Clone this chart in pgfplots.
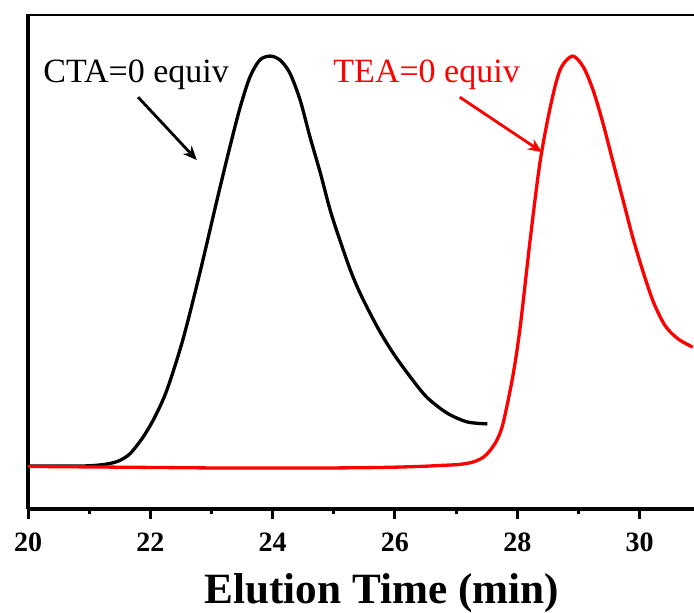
\documentclass[border=0pt]{standalone}
\usepackage{pgfplots}
\pgfplotsset{compat=1.18}
\usepackage{fontspec}
\setmainfont{Liberation Serif}
\usetikzlibrary{arrows.meta}

\definecolor{tracered}{RGB}{255,0,0}

\begin{document}
\begin{tikzpicture}
\begin{axis}[
  at={(0,0)}, anchor=south west,
  width=333pt, height=247.5pt, scale only axis,
  xmin=20, xmax=30.89, ymin=0, ymax=1,
  axis x line*=bottom, axis y line*=left,
  axis line style={line width=1.6pt, black},
  xtick={20,22,...,30}, minor x tick num=1,
  ytick=\empty,
  tick align=outside,
  major tick length=5pt, minor tick length=2.6pt,
  every tick/.style={line width=1.5pt, black},
  /pgf/number format/assume math mode=true,
  xticklabel style={font=\fontsize{14}{16}\selectfont\bfseries, yshift=-3.5pt},
  xlabel={Elution Time (min)},
  x label style={at={(axis description cs:0.531,0)}, anchor=base, yshift=-47pt,
    font=\fontsize{21.6}{24}\selectfont\bfseries},
]
% frame line along the top of the plot area
\draw[line width=2.3pt] (rel axis cs:0,1) -- (rel axis cs:1,1);

% CTA = 0 equiv trace
\addplot[black, line width=1.65pt, smooth, tension=0.5] coordinates {
 (20.00,0.087) (20.52,0.087) (20.93,0.087) (21.18,0.089) (21.34,0.092)
 (21.50,0.098) (21.67,0.112) (21.88,0.145) (22.07,0.185) (22.27,0.240)
 (22.53,0.341) (22.81,0.477) (23.09,0.624) (23.30,0.731) (23.47,0.812)
 (23.63,0.873) (23.79,0.907) (23.96,0.915) (24.12,0.907) (24.28,0.881)
 (24.45,0.826) (24.61,0.752) (24.78,0.679) (24.94,0.604) (25.10,0.543)
 (25.27,0.483) (25.43,0.436) (25.71,0.368) (25.97,0.315) (26.25,0.267)
 (26.52,0.226) (26.85,0.194) (27.18,0.176) (27.51,0.172)
};

% TEA = 0 equiv trace
\addplot[tracered, line width=1.65pt, smooth, tension=0.5] coordinates {
 (20.00,0.086) (21.00,0.085) (22.00,0.084) (23.00,0.083) (24.00,0.083)
 (25.00,0.083) (25.80,0.084) (26.40,0.086) (26.74,0.088) (27.05,0.090)
 (27.28,0.095) (27.45,0.105) (27.56,0.119) (27.67,0.140) (27.77,0.174)
 (27.93,0.270) (28.05,0.370) (28.21,0.543) (28.37,0.699) (28.54,0.812)
 (28.70,0.887) (28.90,0.915) (29.08,0.893) (29.24,0.846) (29.40,0.780)
 (29.57,0.699) (29.73,0.624) (29.89,0.548) (30.06,0.478) (30.22,0.420)
 (30.38,0.378) (30.50,0.358) (30.66,0.341) (30.87,0.327)
};

% annotations
\node[anchor=base west, inner sep=0pt, font=\fontsize{17}{20}\selectfont]
  at (axis cs:20.245,0.861) {CTA=0 equiv};
\draw[-{Stealth[length=7pt,width=6pt]}, line width=1.4pt]
  (axis cs:21.80,0.832) -- (axis cs:22.76,0.705);
\node[anchor=base west, inner sep=0pt, text=tracered, font=\fontsize{17}{20}\selectfont]
  at (axis cs:24.988,0.861) {TEA=0 equiv};
\draw[-{Stealth[length=7pt,width=6pt]}, line width=1.4pt, tracered]
  (axis cs:27.06,0.832) -- (axis cs:28.405,0.721);
\end{axis}
\pgfresetboundingbox
\path[use as bounding box] (-14pt,-51.5pt) rectangle (333pt,254.5pt);
\end{tikzpicture}
\end{document}
